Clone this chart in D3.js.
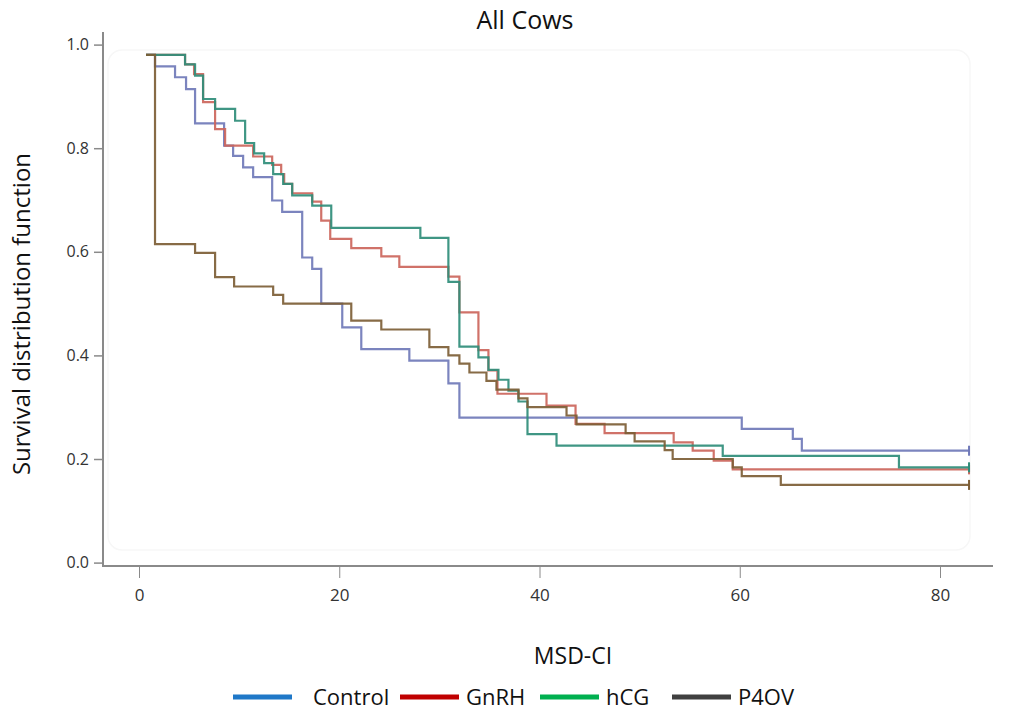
<!DOCTYPE html>
<html>
<head>
<meta charset="utf-8">
<script src="https://cdn.jsdelivr.net/npm/d3@7"></script>
<style>
  html, body { margin: 0; padding: 0; background: #ffffff; }
  svg { display: block; font-family: "Open Sans", "Noto Sans", sans-serif; }
</style>
</head>
<body>
<svg id="chart" width="1012" height="711"></svg>
<script>
// ---------------- data ----------------
const groups = ["Control", "GnRH", "hCG", "P4OV"];

const controlTime = [0.7, 1.6, 3.6, 4.7, 5.6, 8.5, 9.4, 10.4, 11.4, 13.3, 14.3, 16.3, 17.3, 18.2, 20.3, 22.2, 27.0, 30.9, 32.0, 60.2, 65.3, 66.2, 82.9];
const controlSurv = [0.98, 0.958, 0.937, 0.914, 0.848, 0.805, 0.785, 0.763, 0.744, 0.699, 0.677, 0.589, 0.567, 0.500, 0.454, 0.412, 0.390, 0.346, 0.280, 0.258, 0.239, 0.216, 0.216];

const gnrhTime = [0.7, 4.6, 5.5, 6.4, 7.6, 8.6, 11.4, 13.3, 14.2, 14.5, 15.3, 17.3, 18.2, 19.1, 21.2, 24.2, 26.0, 30.9, 32.0, 33.9, 34.9, 35.8, 40.7, 43.6, 46.5, 53.4, 55.3, 57.4, 59.3, 82.9];
const gnrhSurv = [0.98, 0.962, 0.943, 0.889, 0.837, 0.805, 0.784, 0.768, 0.750, 0.731, 0.713, 0.697, 0.660, 0.625, 0.607, 0.591, 0.571, 0.552, 0.483, 0.410, 0.371, 0.326, 0.303, 0.268, 0.250, 0.232, 0.216, 0.197, 0.180, 0.180];

const hcgTime = [0.7, 4.6, 5.6, 6.4, 7.6, 9.6, 10.6, 11.5, 12.5, 13.4, 14.4, 15.3, 17.3, 19.2, 28.1, 30.9, 32.0, 33.9, 34.9, 35.9, 36.9, 37.9, 38.8, 41.7, 58.3, 75.9, 82.9];
const hcgSurv = [0.98, 0.962, 0.940, 0.895, 0.876, 0.853, 0.810, 0.790, 0.771, 0.750, 0.731, 0.709, 0.689, 0.646, 0.627, 0.542, 0.417, 0.396, 0.372, 0.353, 0.332, 0.311, 0.248, 0.226, 0.206, 0.184, 0.184];

const p4ovTime = [0.7, 1.6, 5.6, 7.6, 9.5, 13.4, 14.4, 21.2, 24.2, 29.0, 30.9, 32.0, 33.0, 34.7, 35.7, 37.9, 38.8, 42.7, 43.7, 48.6, 49.5, 52.5, 53.3, 59.3, 60.2, 64.1, 82.9];
const p4ovSurv = [0.98, 0.615, 0.598, 0.551, 0.533, 0.517, 0.500, 0.467, 0.450, 0.416, 0.400, 0.384, 0.367, 0.351, 0.334, 0.317, 0.300, 0.284, 0.267, 0.250, 0.234, 0.217, 0.200, 0.184, 0.167, 0.150, 0.150];

const xTicks = [0, 20, 40, 60, 80];
const yTicks = [0.0, 0.2, 0.4, 0.6, 0.8, 1.0];

// ---------------- styles ----------------
const lineColors = ["#7079b9", "#cc665c", "#2f8d79", "#7d5e36"];
const legendColors = ["#1f78c8", "#c00000", "#00b050", "#404040"];

// ---------------- drawing ----------------
const svg = d3.select("#chart");
const x = d3.scaleLinear().domain([0, 80]).range([139, 940]);
const y = d3.scaleLinear().domain([0, 1]).range([562.6, 44.6]);

// faint frame artefact
svg.append("rect")
  .attr("x", 108).attr("y", 50).attr("width", 862).attr("height", 500)
  .attr("rx", 14)
  .attr("fill", "none").attr("stroke", "#f7f7f7").attr("stroke-width", 1.5);

// title
svg.append("text")
  .attr("x", 525).attr("y", 29)
  .attr("text-anchor", "middle")
  .attr("font-size", 25).attr("fill", "#111")
  .text("All Cows");

// y axis
const yAxis = svg.append("g")
  .attr("transform", "translate(103,0)")
  .call(d3.axisLeft(y).tickValues(yTicks).tickFormat(d3.format(".1f")).tickSize(9).tickSizeOuter(0));
yAxis.select(".domain").attr("stroke", "#8a8a8a").attr("stroke-width", 2)
  .attr("d", "M0,32V567");
yAxis.selectAll(".tick line").attr("stroke", "#8a8a8a").attr("stroke-width", 1.5);
yAxis.selectAll(".tick text").attr("font-size", 16).attr("fill", "#333")
  .attr("font-family", "'Open Sans', sans-serif").attr("dx", -2);

// x axis
const xAxis = svg.append("g")
  .attr("transform", "translate(0,566)")
  .call(d3.axisBottom(x).tickValues(xTicks).tickSize(12).tickSizeOuter(0));
xAxis.select(".domain").attr("stroke", "#8a8a8a").attr("stroke-width", 2)
  .attr("d", "M103,0H993");
xAxis.selectAll(".tick line").attr("stroke", "#8a8a8a").attr("stroke-width", 1);
xAxis.selectAll(".tick text").attr("font-size", 17).attr("fill", "#333")
  .attr("font-family", "'Open Sans', sans-serif").attr("dy", "1.2em");

// axis titles
svg.append("text")
  .attr("transform", "translate(30,314) rotate(-90)")
  .attr("text-anchor", "middle")
  .attr("font-size", 24).attr("fill", "#111")
  .text("Survival distribution function");

svg.append("text")
  .attr("x", 573).attr("y", 664)
  .attr("text-anchor", "middle")
  .attr("font-size", 23).attr("fill", "#111")
  .text("MSD-CI");

// curves
const seriesTimes = [controlTime, gnrhTime, hcgTime, p4ovTime];
const seriesSurv = [controlSurv, gnrhSurv, hcgSurv, p4ovSurv];
const series = groups.map((g, i) => ({
  name: g,
  color: lineColors[i],
  pts: seriesTimes[i].map((t, j) => [t, seriesSurv[i][j]])
}));

const stepLine = d3.line()
  .x(d => x(d[0])).y(d => y(d[1]))
  .curve(d3.curveStepAfter);

const plot = svg.append("g");
series.forEach(s => {
  plot.append("path")
    .attr("d", stepLine(s.pts))
    .attr("fill", "none")
    .attr("stroke", s.color)
    .attr("stroke-width", 2.2)
    .attr("stroke-opacity", 0.92);
  // censor mark at the end
  const last = s.pts[s.pts.length - 1];
  plot.append("line")
    .attr("x1", x(last[0])).attr("x2", x(last[0]))
    .attr("y1", y(last[1]) - 5).attr("y2", y(last[1]) + 5)
    .attr("stroke", s.color).attr("stroke-width", 2);
});

// legend
const legendX = [233, 400, 540, 672];
const legend = svg.append("g");
groups.forEach((g, i) => {
  legend.append("line")
    .attr("x1", legendX[i]).attr("x2", legendX[i] + 59)
    .attr("y1", 697).attr("y2", 697)
    .attr("stroke", legendColors[i]).attr("stroke-width", 5);
  legend.append("text")
    .attr("x", legendX[i] + 66 + (i === 0 ? 14 : 0)).attr("y", 705)
    .attr("font-size", 22).attr("fill", "#111")
    .text(g);
});
</script>
</body>
</html>
